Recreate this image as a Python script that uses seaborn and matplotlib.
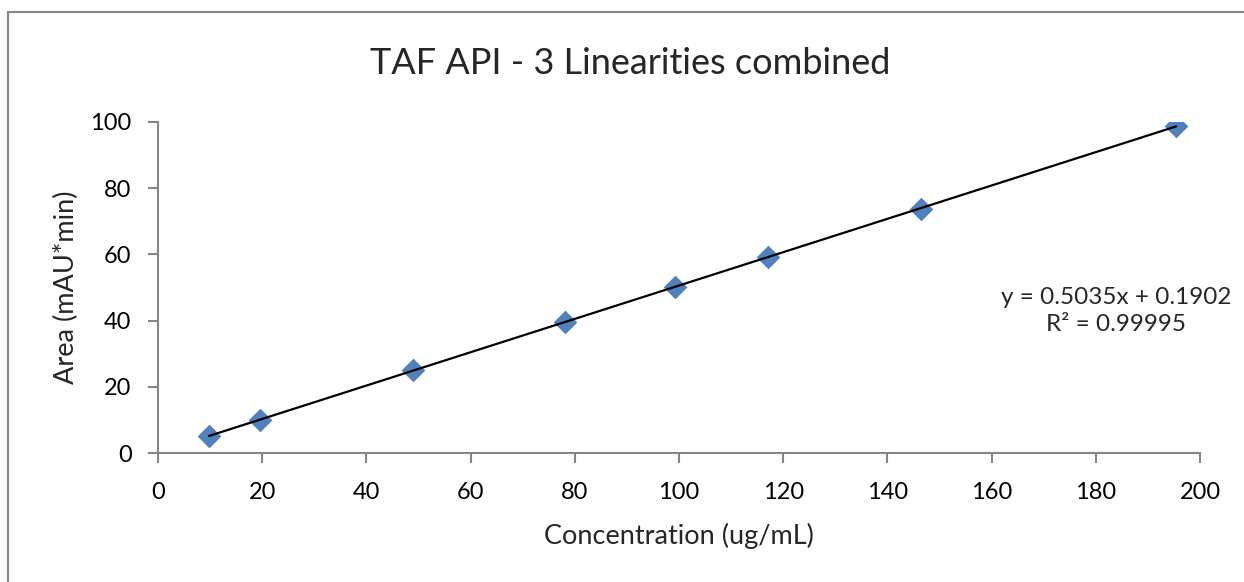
import matplotlib
matplotlib.use("Agg")
import matplotlib.pyplot as plt
import seaborn as sns
import pandas as pd
from matplotlib.lines import Line2D

concentration = [9.8, 19.6, 48.9, 78.1, 99.2, 117.1, 146.4, 195.4]
area = [5.1, 10.0, 25.1, 39.6, 50.2, 59.2, 73.7, 98.8]
x_ticks = [0, 20, 40, 60, 80, 100, 120, 140, 160, 180, 200]
y_ticks = [0, 20, 40, 60, 80, 100]
title = "TAF API - 3 Linearities combined"
x_label = "Concentration (ug/mL)"
y_label = "Area (mAU*min)"
eq_text = "y = 0.5035x + 0.1902\nR\u00b2 = 0.99995"

df = pd.DataFrame({"conc": concentration, "area": area})

sns.set_style("white")
plt.rcParams['font.family'] = ['Lato', 'DejaVu Sans']

fig = plt.figure(figsize=(12.44, 5.82), dpi=100)
ax = fig.add_axes([158/1244, 1-453/582, 1042/1244, 331/582])

sns.regplot(data=df, x="conc", y="area", ax=ax, ci=None, truncate=True,
            scatter=False, line_kws=dict(color="black", lw=1.6, zorder=3))
sns.scatterplot(data=df, x="conc", y="area", ax=ax, marker="D", s=145,
                color="#4F81BD", edgecolor="#4F81BD", linewidth=0, zorder=2)

ax.set_xlim(0, 200)
ax.set_ylim(0, 100)
ax.set_xticks(x_ticks)
ax.set_yticks(y_ticks)
ax.set_xticklabels([str(t) for t in x_ticks])
ax.set_yticklabels([str(t) for t in y_ticks])
ax.tick_params(axis="both", labelsize=17, colors="#868686", labelcolor="black",
               length=7, width=1.5, direction="out", bottom=True, left=True)
ax.tick_params(axis="y", pad=12)
ax.tick_params(axis="x", pad=14)
for s in ["top", "right"]:
    ax.spines[s].set_visible(False)
for s in ["left", "bottom"]:
    ax.spines[s].set_color("#868686")
    ax.spines[s].set_linewidth(1.5)

ax.set_xlabel(x_label, fontsize=19.5, labelpad=14)
ax.set_ylabel(y_label, fontsize=19.5, labelpad=8)

fig.text(630/1244, 1-63/582, title, fontsize=26, ha="center", va="center")
ax.text(1116/1244, 1-311/582, eq_text, transform=fig.transFigure, fontsize=17.5,
        ha="center", va="center", multialignment="center", linespacing=1.3)

# outer chart border (left and top visible)
fig.add_artist(Line2D([8/1244, 8/1244], [0, 1-12/582], transform=fig.transFigure,
                      color="#868686", lw=1.5))
fig.add_artist(Line2D([8/1244, 1], [1-12/582, 1-12/582], transform=fig.transFigure,
                      color="#868686", lw=1.5))

fig.savefig("out.png", dpi=100)
